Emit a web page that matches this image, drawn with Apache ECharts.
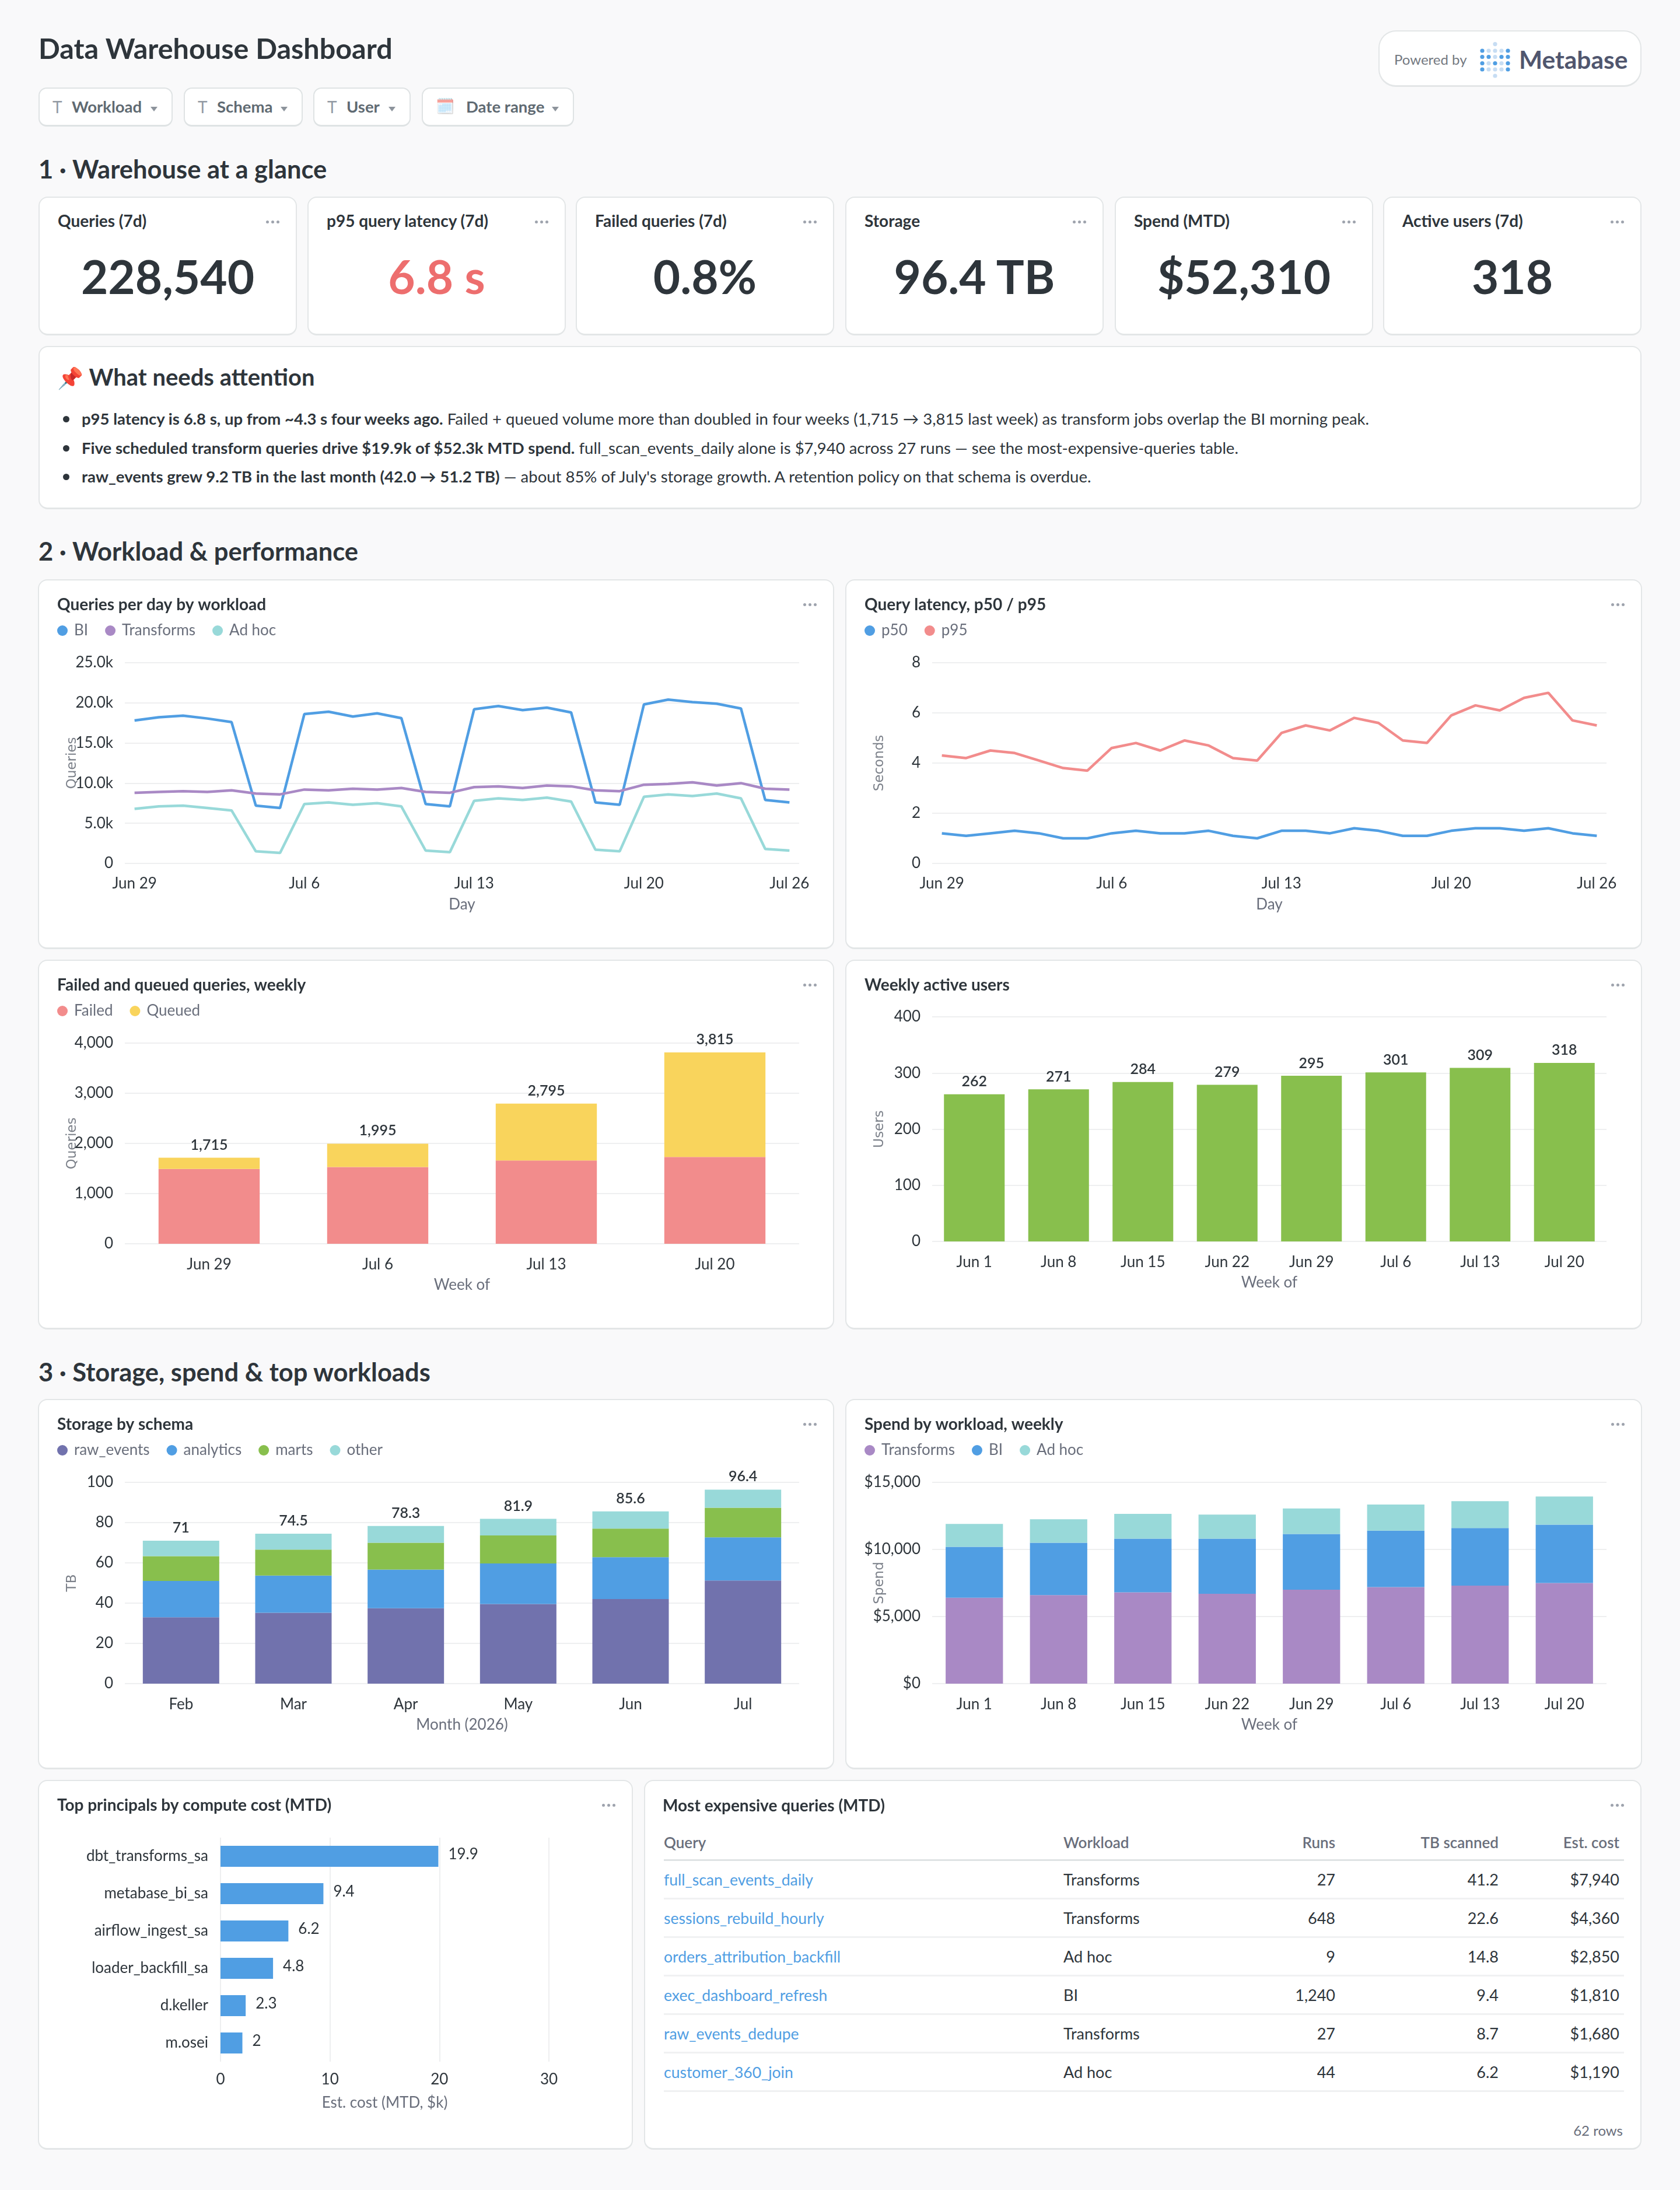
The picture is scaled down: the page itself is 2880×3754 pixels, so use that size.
<!DOCTYPE html>
<html>
<head>
<meta charset="utf-8">
<title>Data Warehouse Dashboard</title>
<script src="https://cdn.jsdelivr.net/npm/echarts@6/dist/echarts.min.js"></script>
<style>
  html, body { margin: 0; padding: 0; background: #f9f9fa; }
  body { position: relative; width: 2880px; height: 3754px; overflow: hidden; font-family: Lato, sans-serif; color: #2e353b; }
  .abs { position: absolute; white-space: nowrap; }
  .card { position: absolute; box-sizing: border-box; background: #fff; border: 2px solid #e3e6e7; border-bottom-width: 3px; border-radius: 16px; overflow: hidden; }
  .chart { position: absolute; left: -2px; top: -2px; }
  .dots { position: absolute; right: 28px; top: 39px; display: flex; gap: 4px; }
  .dots i { width: 5px; height: 5px; border-radius: 50%; background: #9ea3ad; display: block; }
  .section { left: 66px; font-size: 43.5px; line-height: 60px; font-weight: 700; }
  .filter { position: absolute; top: 150px; height: 67px; box-sizing: border-box; background: #fff; border: 2px solid #dfe3e4; border-bottom-width: 3px; border-radius: 14px; color: #5f6a72; font-size: 27.5px; font-weight: 700; line-height: 62px; white-space: nowrap; }
  .filter span { position: absolute; top: 0; }
  .filter .t { color: #939aa3; font-weight: 400; font-size: 28px; }
  .filter .caret { width: 0; height: 0; top: 31px; border-left: 6px solid transparent; border-right: 6px solid transparent; border-top: 8px solid #8d949c; }
  .kpi-label { position: absolute; left: 31px; top: 21px; font-size: 28px; line-height: 36px; font-weight: 700; white-space: nowrap; }
  .kpi-value { position: absolute; left: 0; right: 0; top: 86px; text-align: center; font-size: 80px; line-height: 96px; font-weight: 700; }
  .note-row { position: absolute; left: 72px; white-space: nowrap; font-size: 27.5px; line-height: 36px; }
  .note-row::before { content: ''; position: absolute; left: -32px; top: 13px; width: 11px; height: 11px; border-radius: 50%; background: #2e353b; }
  table { position: absolute; left: 32px; top: 76px; width: 1646px; border-collapse: collapse; table-layout: fixed; }
  th { height: 58px; font-size: 26px; font-weight: 600; color: #696e7b; border-bottom: 3px solid #dfe3e4; padding: 0; text-align: left; }
  td { height: 63px; font-size: 27px; border-bottom: 3px solid #f0f1f2; padding: 0; color: #2e353b; }
  td.q { color: #509ee3; font-size: 26.5px; }
  .num { text-align: right; }
  .num.last { padding-right: 8px; }
</style>
</head>
<body>
<script>
const dayLabels = ['Jun 29','Jun 30','Jul 1','Jul 2','Jul 3','Jul 4','Jul 5','Jul 6','Jul 7','Jul 8','Jul 9','Jul 10','Jul 11','Jul 12','Jul 13','Jul 14','Jul 15','Jul 16','Jul 17','Jul 18','Jul 19','Jul 20','Jul 21','Jul 22','Jul 23','Jul 24','Jul 25','Jul 26'];
const dayTicks = [0, 7, 14, 21, 27];
const queriesBI = [17800,18200,18400,18050,17600,7200,6900,18600,18900,18300,18700,18100,7400,7100,19200,19600,19100,19400,18800,7600,7300,19800,20400,20100,19900,19300,7900,7600];
const queriesTransforms = [8800,8900,9000,8900,9100,8700,8600,9200,9100,9300,9200,9400,8900,8800,9500,9600,9400,9700,9600,9100,9000,9800,9900,10100,9700,10000,9300,9200];
const queriesAdhoc = [6800,7100,7200,6900,6600,1500,1300,7400,7600,7300,7500,7100,1600,1400,7800,8100,7900,8200,7700,1700,1500,8300,8600,8400,8700,8100,1800,1600];
const latencyP50 = [1.2,1.1,1.2,1.3,1.2,1.0,1.0,1.2,1.3,1.2,1.2,1.3,1.1,1.0,1.3,1.3,1.2,1.4,1.3,1.1,1.1,1.3,1.4,1.4,1.3,1.4,1.2,1.1];
const latencyP95 = [4.3,4.2,4.5,4.4,4.1,3.8,3.7,4.6,4.8,4.5,4.9,4.7,4.2,4.1,5.2,5.5,5.3,5.8,5.6,4.9,4.8,5.9,6.3,6.1,6.6,6.8,5.7,5.5];

const failWeeks = ['Jun 29','Jul 6','Jul 13','Jul 20'];
const failed = [1490,1530,1660,1730];
const queued = [225,465,1135,2085];
const failTotals = [1715,1995,2795,3815];

const weeks = ['Jun 1','Jun 8','Jun 15','Jun 22','Jun 29','Jul 6','Jul 13','Jul 20'];
const activeUsers = [262,271,284,279,295,301,309,318];

const months = ['Feb','Mar','Apr','May','Jun','Jul'];
const storageRaw = [33,35.2,37.5,39.6,42,51.2];
const storageAnalytics = [18,18.5,19.2,20.1,20.8,21.5];
const storageMarts = [12.3,12.9,13.3,13.9,14.2,14.7];
const storageOther = [7.7,7.9,8.3,8.3,8.6,9];
const storageTotals = [71,74.5,78.3,81.9,85.6,96.4];

const spendTransforms = [6400,6600,6800,6700,7000,7200,7300,7500];
const spendBI = [3800,3900,4000,4100,4150,4200,4300,4350];
const spendAdhoc = [1700,1750,1850,1800,1900,1950,2000,2100];

const principals = ['dbt_transforms_sa','metabase_bi_sa','airflow_ingest_sa','loader_backfill_sa','d.keller','m.osei'];
const principalCost = [19.9,9.4,6.2,4.8,2.3,2];

const tableHead = ['Query','Workload','Runs','TB scanned','Est. cost'];
const tableQuery = ['full_scan_events_daily','sessions_rebuild_hourly','orders_attribution_backfill','exec_dashboard_refresh','raw_events_dedupe','customer_360_join'];
const tableWorkload = ['Transforms','Transforms','Ad hoc','BI','Transforms','Ad hoc'];
const tableRuns = ['27','648','9','1,240','27','44'];
const tableScanned = ['41.2','22.6','14.8','9.4','8.7','6.2'];
const tableCost = ['$7,940','$4,360','$2,850','$1,810','$1,680','$1,190'];

const kpiLabels = ['Queries (7d)','p95 query latency (7d)','Failed queries (7d)','Storage','Spend (MTD)','Active users (7d)'];
const kpiValues = ['228,540','6.8 s','0.8%','96.4 TB','$52,310','318'];

const BLUE = '#509ee3', PURPLE = '#a989c5', TEAL = '#98d9d9', RED = '#f28c8c', YELLOW = '#f9d45c', GREEN = '#88bf4d', INDIGO = '#7172ad';
const DARK = '#2e353b', MUTED = '#696e7b', GRID = '#eeeff0';

function el(html) {
    const d = document.createElement('div');
    d.innerHTML = html;
    return document.body.appendChild(d.firstElementChild);
}
function card(x, y, w, h) {
    const c = el('<div class="card"></div>');
    c.style.cssText = `left:${x}px;top:${y}px;width:${w}px;height:${h}px`;
    return c;
}
function dots(c) {
    c.insertAdjacentHTML('beforeend', '<div class="dots"><i></i><i></i><i></i></div>');
}

// header
el('<div class="abs" style="left:66px;top:50px;font-size:48.5px;line-height:64px;font-weight:700">Data Warehouse Dashboard</div>');
const filters = [
    [66, 230, 'T', 'Workload'],
    [315, 204, 'T', 'Schema'],
    [537, 167, 'T', 'User'],
    [723, 261, '', 'Date range']
];
filters.forEach(([x, w, t, label]) => {
    el(`<div class="filter" style="left:${x}px;width:${w}px">` +
        (t ? `<span class="t" style="left:22px">T</span>` : `<span style="left:22px;top:-1px;font-family:'Noto Color Emoji',Lato;font-size:26px;font-weight:400;opacity:.5">🗓️</span>`) +
        `<span style="left:${t ? 55 : 74}px">${label}</span><span class="caret" style="left:${w - 40}px"></span></div>`);
});

// powered by badge
const logoRows = [[1,0,0,0,1],[1,1,0,1,1],[1,0,1,0,1],[1,0,0,0,1]];
let logoDots = '<circle cx="26" cy="3.6" r="3.6" fill="#c7ddf3"/><circle cx="26" cy="58" r="3.6" fill="#c7ddf3"/>';
logoRows.forEach((row, r) => row.forEach((on, c) => {
    logoDots += `<circle cx="${c * 11 + 4}" cy="${[15, 25.5, 36.5, 47][r]}" r="3.6" fill="${on ? BLUE : '#c7ddf3'}"/>`;
}));
el(`<div class="card" style="left:2363px;top:52px;width:451px;height:97px;border-radius:30px">
  <div class="abs" style="left:25px;top:32px;font-size:24px;line-height:32px;color:#737880">Powered by</div>
  <svg class="abs" style="left:172px;top:18px" width="52" height="62">${logoDots}</svg>
  <div class="abs" style="left:239px;top:20px;font-size:42.5px;line-height:56px;font-weight:700;color:#50566e">Metabase</div>
</div>`);

// section 1
el('<div class="abs section" style="top:259px">1 · Warehouse at a glance</div>');
const kpiX = [66, 527, 987, 1449, 1911, 2371];
kpiLabels.forEach((label, i) => {
    const c = card(kpiX[i], 337, 443, 238);
    c.innerHTML = `<div class="kpi-label">${label}</div><div class="kpi-value" style="color:${i === 1 ? '#ed6e6e' : DARK}">${kpiValues[i]}</div>`;
    dots(c);
});

const note = card(66, 593, 2748, 280);
note.innerHTML = `
  <div class="abs" style="left:30px;top:25px;font-size:40px;line-height:52px;font-weight:700"><span style="font-size:36px">📌</span> What needs attention</div>
  <div class="note-row" style="top:105px"><b>p95 latency is 6.8 s, up from ~4.3 s four weeks ago.</b> Failed + queued volume more than doubled in four weeks (1,715 → 3,815 last week) as transform jobs overlap the BI morning peak.</div>
  <div class="note-row" style="top:155px"><b>Five scheduled transform queries drive $19.9k of $52.3k MTD spend.</b> full_scan_events_daily alone is $7,940 across 27 runs — see the most-expensive-queries table.</div>
  <div class="note-row" style="top:204px"><b>raw_events grew 9.2 TB in the last month (42.0 → 51.2 TB)</b> — about 85% of July's storage growth. A retention policy on that schema is overdue.</div>`;

el('<div class="abs section" style="top:914px">2 · Workload &amp; performance</div>');
el('<div class="abs section" style="top:2321px">3 · Storage, spend &amp; top workloads</div>');

function chartCard(x, y, w, h, option) {
    const c = card(x, y, w, h);
    const d = document.createElement('div');
    d.className = 'chart';
    d.style.width = w + 'px';
    d.style.height = h + 'px';
    c.appendChild(d);
    dots(c);
    const chart = echarts.init(d);
    chart.setOption(Object.assign({ animation: false, textStyle: { fontFamily: 'Lato' } }, option));
    window.addEventListener('resize', () => chart.resize());
    return chart;
}
function titleOf(text) {
    return { text, left: 33, top: 30, padding: 0, textStyle: { fontFamily: 'Lato', fontSize: 28, fontWeight: 700, color: DARK } };
}
function legendOf(names) {
    return {
        data: names, left: 33, top: 75, padding: 0, icon: 'circle', itemWidth: 18, itemHeight: 18, itemGap: 29,
        textStyle: { fontFamily: 'Lato', fontSize: 26, color: MUTED, padding: [0, 0, 0, 6] }
    };
}
function yAxisOf(name, max, interval, formatter) {
    return {
        type: 'value', name, nameLocation: 'middle', nameGap: 78, nameMoveOverlap: false, min: 0, max, interval,
        nameTextStyle: { fontFamily: 'DejaVu Sans', fontSize: 23, color: '#7c818a' },
        axisLine: { show: false }, axisTick: { show: false },
        axisLabel: { fontFamily: 'Lato', fontSize: 26, color: DARK, margin: 20, formatter },
        splitLine: { lineStyle: { color: GRID, width: 2 } }
    };
}
function xCategoryOf(name, data) {
    return {
        type: 'category', name, data, nameLocation: 'middle', nameGap: 58,
        nameTextStyle: { fontFamily: 'Lato', fontSize: 26, color: MUTED },
        axisLine: { show: false }, axisTick: { show: false },
        axisLabel: { fontFamily: 'Lato', fontSize: 26, color: DARK, margin: 23 }
    };
}
function xDayAxis() {
    return {
        type: 'value', name: 'Day', nameLocation: 'middle', nameGap: 58, min: -0.4, max: 27.4,
        nameTextStyle: { fontFamily: 'Lato', fontSize: 26, color: MUTED },
        axisLine: { show: false }, axisTick: { show: false }, splitLine: { show: false },
        axisLabel: { fontFamily: 'Lato', fontSize: 26, color: DARK, margin: 22, customValues: dayTicks, formatter: v => dayLabels[v] }
    };
}
function lineOf(name, values, color) {
    return {
        name, type: 'line', data: values.map((v, i) => [i, v]), symbol: 'none',
        lineStyle: { color, width: 4.5 }, itemStyle: { color }
    };
}
function stackOf(name, values, color, gap) {
    return { name, type: 'bar', stack: 'total', data: values, barCategoryGap: gap, itemStyle: { color } };
}
function totalsOf(values, formatter) {
    return {
        name: 'Total', type: 'line', data: values, symbol: 'circle', symbolSize: 1, silent: true,
        lineStyle: { color: 'rgba(0,0,0,0)', width: 0 }, itemStyle: { color: 'rgba(0,0,0,0)' },
        label: { show: true, position: 'top', distance: 9, fontFamily: 'Lato', fontSize: 25, fontWeight: 600, color: DARK, formatter: formatter }
    };
}
const commas = p => Number(p.value).toLocaleString('en-US');

chartCard(65, 993, 1365, 634, {
    title: titleOf('Queries per day by workload'),
    legend: legendOf(['BI', 'Transforms', 'Ad hoc']),
    grid: { left: 149, right: 60, top: 143, bottom: 147 },
    xAxis: xDayAxis(),
    yAxis: yAxisOf('Queries', 25000, 5000, v => v === 0 ? '0' : (v / 1000).toFixed(1) + 'k'),
    series: [lineOf('BI', queriesBI, BLUE), lineOf('Transforms', queriesTransforms, PURPLE), lineOf('Ad hoc', queriesAdhoc, TEAL)]
});
chartCard(1449, 993, 1366, 634, {
    title: titleOf('Query latency, p50 / p95'),
    legend: legendOf(['p50', 'p95']),
    grid: { left: 149, right: 61, top: 143, bottom: 147 },
    xAxis: xDayAxis(),
    yAxis: yAxisOf('Seconds', 8, 2),
    series: [lineOf('p50', latencyP50, BLUE), lineOf('p95', latencyP95, RED)]
});
chartCard(65, 1645, 1365, 634, {
    title: titleOf('Failed and queued queries, weekly'),
    legend: legendOf(['Failed', 'Queued']),
    grid: { left: 149, right: 60, top: 143, bottom: 147 },
    xAxis: xCategoryOf('Week of', failWeeks),
    yAxis: yAxisOf('Queries', 4000, 1000, v => v.toLocaleString('en-US')),
    series: [stackOf('Failed', failed, RED, '40%'), stackOf('Queued', queued, YELLOW, '40%'), totalsOf(failTotals, commas)]
});
chartCard(1449, 1645, 1366, 634, {
    title: titleOf('Weekly active users'),
    grid: { left: 149, right: 61, top: 98, bottom: 151 },
    xAxis: xCategoryOf('Week of', weeks),
    yAxis: yAxisOf('Users', 400, 100),
    series: [{
        name: 'Users', type: 'bar', data: activeUsers, barCategoryGap: '28%', itemStyle: { color: GREEN },
        label: { show: true, position: 'top', distance: 9, fontFamily: 'Lato', fontSize: 25, fontWeight: 600, color: DARK }
    }]
});
chartCard(65, 2398, 1365, 635, {
    title: titleOf('Storage by schema'),
    legend: legendOf(['raw_events', 'analytics', 'marts', 'other']),
    grid: { left: 149, right: 60, top: 143, bottom: 147 },
    xAxis: xCategoryOf('Month (2026)', months),
    yAxis: yAxisOf('TB', 100, 20),
    series: [
        stackOf('raw_events', storageRaw, INDIGO, '32%'), stackOf('analytics', storageAnalytics, BLUE, '32%'),
        stackOf('marts', storageMarts, GREEN, '32%'), stackOf('other', storageOther, TEAL, '32%'),
        totalsOf(storageTotals)
    ]
});
chartCard(1449, 2398, 1366, 635, {
    title: titleOf('Spend by workload, weekly'),
    legend: legendOf(['Transforms', 'BI', 'Ad hoc']),
    grid: { left: 149, right: 61, top: 143, bottom: 147 },
    xAxis: xCategoryOf('Week of', weeks),
    yAxis: yAxisOf('Spend', 15000, 5000, v => '$' + v.toLocaleString('en-US')),
    series: [stackOf('Transforms', spendTransforms, PURPLE, '32%'), stackOf('BI', spendBI, BLUE, '32%'), stackOf('Ad hoc', spendAdhoc, TEAL, '32%')]
});
chartCard(65, 3051, 1020, 634, {
    title: titleOf('Top principals by compute cost (MTD)'),
    grid: { left: 313, right: 144, top: 99, bottom: 151 },
    xAxis: {
        type: 'value', name: 'Est. cost (MTD, $k)', nameLocation: 'middle', nameGap: 58, min: 0, max: 30, interval: 10,
        nameTextStyle: { fontFamily: 'Lato', fontSize: 26, color: MUTED },
        axisLine: { show: false }, axisTick: { show: false },
        axisLabel: { fontFamily: 'Lato', fontSize: 26, color: DARK, margin: 18 },
        splitLine: { lineStyle: { color: GRID, width: 2 } }
    },
    yAxis: {
        type: 'category', data: principals, inverse: true,
        axisLine: { show: false }, axisTick: { show: false },
        axisLabel: { fontFamily: 'Lato', fontSize: 26, color: DARK, margin: 21 }
    },
    series: [{
        type: 'bar', data: principalCost, barCategoryGap: '44%', itemStyle: { color: BLUE },
        label: { show: true, position: 'right', distance: 17, offset: [0, -3], fontFamily: 'Lato', fontSize: 26, color: DARK }
    }]
});

// query table
const tableCard = card(1104, 3051, 1710, 634);
tableCard.innerHTML = `<div class="abs" style="left:30px;top:23px;font-size:28px;line-height:36px;font-weight:700">Most expensive queries (MTD)</div>`;
dots(tableCard);
const headCells = tableHead.map((h, i) => `<th class="${i > 1 ? 'num' : ''}${i === 4 ? ' last' : ''}">${h}</th>`).join('');
const bodyRows = tableQuery.map((q, i) => `<tr><td class="q">${q}</td><td>${tableWorkload[i]}</td><td class="num">${tableRuns[i]}</td><td class="num">${tableScanned[i]}</td><td class="num last">${tableCost[i]}</td></tr>`).join('');
tableCard.insertAdjacentHTML('beforeend', `<table>
  <colgroup><col style="width:685px"><col style="width:300px"><col style="width:166px"><col style="width:280px"><col style="width:215px"></colgroup>
  <thead><tr>${headCells}</tr></thead><tbody>${bodyRows}</tbody></table>
  <div class="abs" style="right:30px;top:583px;font-size:24px;line-height:32px;color:${MUTED}">62 rows</div>`);
</script>
</body>
</html>
